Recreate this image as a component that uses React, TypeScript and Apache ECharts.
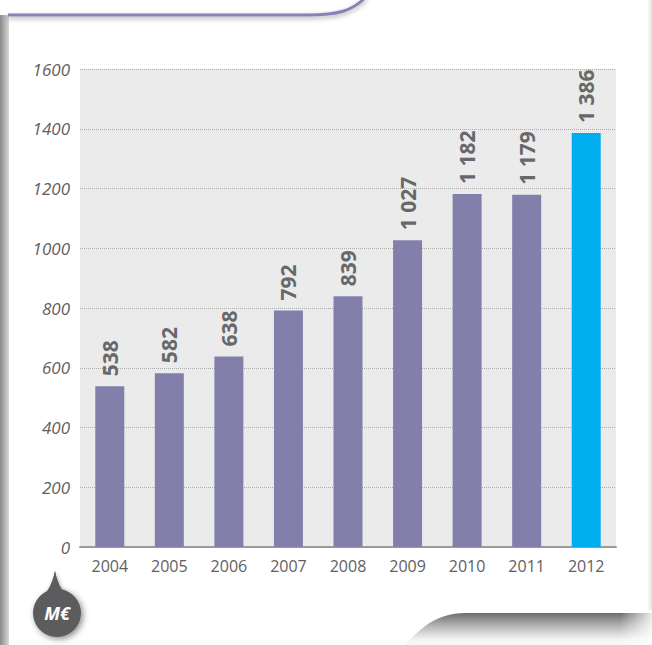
import React, { useEffect, useRef } from "react";
import * as echarts from "echarts";

const categories = ["2004", "2005", "2006", "2007", "2008", "2009", "2010", "2011", "2012"];
const values = [538, 582, 638, 792, 839, 1027, 1182, 1179, 1386];
const highlightCategory = "2012";
const yTicks = { min: 0, max: 1600, interval: 200 };
const unitLabel = "M€";

const TOP_D = "M 8 15 L 308 15 C 338 15 352 11 366 -3";
const BOTTOM_D = "M 398 650 C 418 634 430 613 466 613 L 652 613 L 652 650 Z";
const POINTER_D = "M 42 600 L 48 590 Q 53 582 55 571 Q 57 582 62 590 L 70 600 Z";

echarts.graphic.registerShape("topEdge", echarts.graphic.extendPath(TOP_D, {}));
echarts.graphic.registerShape("bottomShadow", echarts.graphic.extendPath(BOTTOM_D, {}));
echarts.graphic.registerShape("badgePointer", echarts.graphic.extendPath(POINTER_D, {}));

const fmt = (v: number) =>
  v >= 1000 ? `${Math.floor(v / 1000)} ${String(v % 1000).padStart(3, "0")}` : String(v);

export default function App() {
  const ref = useRef<HTMLDivElement>(null);
  useEffect(() => {
    if (!ref.current) return;
    const chart = echarts.init(ref.current, undefined, { renderer: "svg" });
    const font = "'Open Sans', sans-serif";
    chart.setOption({
      animation: false,
      backgroundColor: "#ffffff",
      grid: {
        left: 80,
        right: 36,
        top: 69,
        bottom: 98,
        show: true,
        backgroundColor: "#ebebeb",
        borderWidth: 0,
      },
      xAxis: {
        type: "category",
        data: categories,
        axisTick: { show: false },
        axisLine: { lineStyle: { color: "#9b9b9b", width: 2 } },
        axisLabel: { color: "#5f6062", fontSize: 16, fontFamily: font, margin: 11 },
      },
      yAxis: {
        type: "value",
        min: yTicks.min,
        max: yTicks.max,
        interval: yTicks.interval,
        axisLine: { show: false },
        axisTick: { show: false },
        splitLine: { lineStyle: { color: "#ababab", type: [1, 1], width: 1 } },
        axisLabel: {
          color: "#5f6062",
          fontSize: 17,
          fontStyle: "italic",
          fontFamily: font,
          margin: 10,
          formatter: (v: number) => String(v),
        },
      },
      series: [
        {
          type: "bar",
          data: values,
          barWidth: 29,
          itemStyle: {
            color: (p: any) => (categories[p.dataIndex] === highlightCategory ? "#00aeef" : "#8280aa"),
          },
          label: {
            show: true,
            position: "top",
            rotate: 90,
            align: "left",
            verticalAlign: "middle",
            distance: 10,
            color: "#67686a",
            fontSize: 21,
            fontWeight: "bold",
            fontFamily: font,
            formatter: (p: any) => fmt(p.value),
          },
        },
      ],
      graphic: [
        {
          type: "rect",
          shape: { x: 0, y: 15, width: 9, height: 630 },
          style: {
            fill: new echarts.graphic.LinearGradient(0, 0, 1, 0, [
              { offset: 0, color: "#8a8a8a" },
              { offset: 1, color: "#d8d8d8" },
            ]),
          },
          silent: true,
        },
        {
          type: "rect",
          shape: { x: 647, y: 0, width: 5, height: 613 },
          style: {
            fill: new echarts.graphic.LinearGradient(0, 0, 1, 0, [
              { offset: 0, color: "#ffffff" },
              { offset: 1, color: "#e2e2e2" },
            ]),
          },
          silent: true,
        },
        {
          type: "topEdge",
          x: 0,
          y: 0,
          style: {
            fill: null,
            stroke: "#8583b3",
            lineWidth: 3,
            shadowBlur: 5,
            shadowColor: "rgba(0,0,0,0.35)",
            shadowOffsetY: 2,
          },
          silent: true,
        },
        {
          type: "bottomShadow",
          x: 0,
          y: 0,
          style: {
            fill: new echarts.graphic.LinearGradient(0, 0, 0, 1, [
              { offset: 0, color: "#6c6c6c" },
              { offset: 0.35, color: "#b5b5b5" },
              { offset: 0.7, color: "#f2f2f2" },
              { offset: 1, color: "#ffffff" },
            ]),
          },
          silent: true,
        },
        {
          type: "rect",
          shape: { x: 620, y: 610, width: 32, height: 35 },
          style: {
            fill: new echarts.graphic.LinearGradient(0, 0, 1, 0, [
              { offset: 0, color: "rgba(255,255,255,0)" },
              { offset: 1, color: "rgba(255,255,255,0.85)" },
            ]),
          },
          silent: true,
        },
        {
          type: "group",
          children: [
            {
              type: "badgePointer",
              x: 0,
              y: 0,
              style: {
                fill: "#5b5c5e",
                shadowBlur: 4,
                shadowColor: "rgba(0,0,0,0.35)",
                shadowOffsetX: 1,
                shadowOffsetY: 1,
              },
            },
            {
              type: "circle",
              shape: { cx: 57, cy: 613, r: 24 },
              style: {
                fill: "#5b5c5e",
                shadowBlur: 6,
                shadowColor: "rgba(0,0,0,0.45)",
                shadowOffsetX: 2,
                shadowOffsetY: 2,
              },
            },
            {
              type: "badgePointer",
              x: 0,
              y: 0,
              style: { fill: "#5b5c5e" },
            },
            {
              type: "text",
              x: 57,
              y: 613,
              style: {
                text: unitLabel,
                fill: "#ffffff",
                font: "italic bold 18px 'Open Sans', sans-serif",
                align: "center",
                verticalAlign: "middle",
              },
            },
          ],
          silent: true,
        },
      ],
    });
    return () => chart.dispose();
  }, []);
  return (
    <div
      ref={ref}
      style={{ position: "fixed", left: 0, top: 0, width: 652, height: 645 }}
    />
  );
}
